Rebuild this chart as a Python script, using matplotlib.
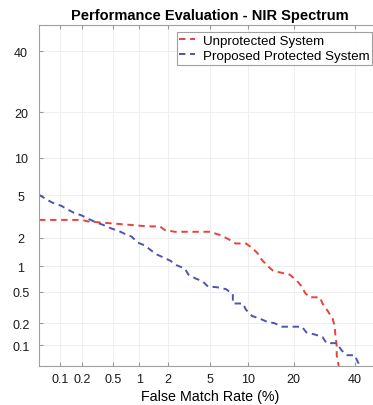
import matplotlib
matplotlib.use('Agg')
import matplotlib.pyplot as plt
from statistics import NormalDist

# DET-Kurven (Werte in %)
fmr_unprot = [0.05, 0.2, 0.24, 0.74, 1.24, 1.67, 1.87, 2.36, 5.0, 5.3, 6.3, 7.3, 8.1, 9.7, 10.9,
              11.8, 12.7, 13.8, 14.9, 16.5, 19.0, 20.9, 22.3, 23.2, 24.6, 27.8, 28.7, 30.4,
              32.1, 32.8, 33.1, 33.5, 33.5, 34.2]
fnmr_unprot = [3.0, 3.0, 2.9, 2.7, 2.6, 2.6, 2.4, 2.3, 2.3, 2.25, 2.1, 1.9, 1.75, 1.75, 1.55,
               1.37, 1.15, 1.0, 0.89, 0.85, 0.8, 0.68, 0.58, 0.49, 0.43, 0.43, 0.36, 0.29,
               0.23, 0.18, 0.13, 0.1, 0.072, 0.05]

fmr_prot = [0.05, 0.065, 0.08, 0.105, 0.13, 0.156, 0.2, 0.24, 0.31, 0.37, 0.48, 0.57, 0.68,
            0.82, 0.96, 1.15, 1.4, 1.55, 1.83, 2.15, 2.47, 2.95, 3.2, 3.74, 4.3, 4.8, 5.7,
            6.8, 7.7, 7.7, 9.2, 9.7, 10.7, 12.2, 13.6, 15.3, 17.0, 22.3, 23.7, 26.5, 28.7,
            30.0, 33.5, 35.2, 37.0, 40.0, 41.9]
fnmr_prot = [5.07, 4.6, 4.3, 4.05, 3.74, 3.5, 3.3, 3.08, 2.83, 2.7, 2.47, 2.36, 2.2, 2.06,
             1.79, 1.67, 1.44, 1.34, 1.24, 1.14, 1.02, 0.94, 0.8, 0.72, 0.67, 0.58, 0.57,
             0.54, 0.47, 0.36, 0.36, 0.3, 0.25, 0.23, 0.21, 0.2, 0.18, 0.18, 0.15, 0.14,
             0.13, 0.107, 0.107, 0.085, 0.072, 0.072, 0.05]

ticks = [0.1, 0.2, 0.5, 1, 2, 5, 10, 20, 40]
tick_labels = ['0.1', '0.2', '0.5', '1', '2', '5', '10', '20', '40']


def probit(vals):
    nd = NormalDist()
    return [nd.inv_cdf(v / 100.0) for v in vals]


plt.rcParams['font.family'] = ['Liberation Sans', 'DejaVu Sans']

fig = plt.figure(figsize=(3.73, 4.06), dpi=100)
ax = fig.add_axes([39 / 373, 39 / 406, 342 / 373, 341 / 406])

ax.plot(probit(fmr_unprot), probit(fnmr_unprot), '--', color='#e8423a', lw=1.4,
        dashes=(3.3, 2.4), label='Unprotected System')
ax.plot(probit(fmr_prot), probit(fnmr_prot), '--', color='#4d54ae', lw=1.4,
        dashes=(3.3, 2.4), label='Proposed Protected System')

lim = probit([0.05, 50])
ax.set_xlim(lim)
ax.set_ylim(lim)

ax.set_xticks(probit(ticks))
ax.set_xticklabels(tick_labels)
ax.set_yticks(probit(ticks))
ax.set_yticklabels(tick_labels)
ax.tick_params(direction='in', length=3, color='#9a9a9a', labelsize=9,
               labelcolor='#1a1a1a', top=True, right=True)
ax.tick_params(axis='x', pad=5)
ax.tick_params(axis='y', pad=13)
for lab in ax.get_yticklabels():
    lab.set_horizontalalignment('center')
ax.grid(True, color='#eeeeee', lw=0.7)
for s in ax.spines.values():
    s.set_color('#a0a0a0')
    s.set_linewidth(0.8)

ax.set_xlabel('False Match Rate (%)', fontsize=10.3, labelpad=3)
ax.set_title('Performance Evaluation - NIR Spectrum', fontsize=10.5, fontweight='bold', pad=4)

leg = ax.legend(loc='upper right', bbox_to_anchor=(372 / 373, 1 - 33 / 406),
                bbox_transform=fig.transFigure, fontsize=9.6, frameon=True, fancybox=False,
                handlelength=1.15, handletextpad=0.6, borderpad=0.2, labelspacing=0.2,
                borderaxespad=0)
leg.get_frame().set_edgecolor('#888888')
leg.get_frame().set_linewidth(0.8)

fig.savefig('out.png', dpi=100)
